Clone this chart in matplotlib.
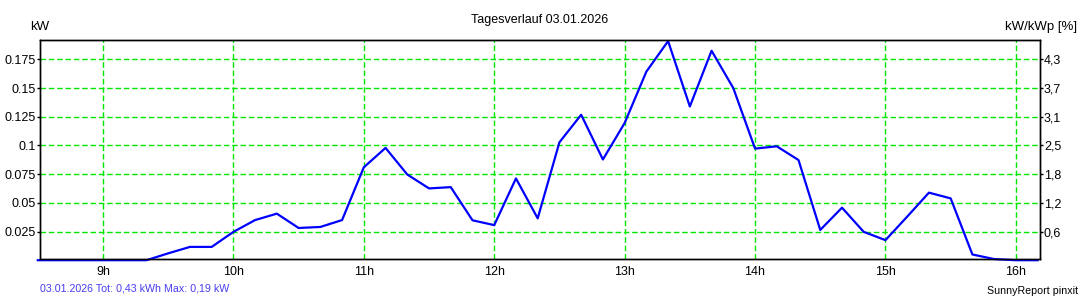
import matplotlib
matplotlib.use("Agg")
import matplotlib.pyplot as plt
import numpy as np

plt.rcParams['font.family'] = ['Liberation Sans', 'DejaVu Sans']

# 10-minute samples from 08:30 to 16:10
times = ["8:30", "8:40", "8:50", "9:00", "9:10", "9:20", "9:30", "9:40", "9:50",
         "10:00", "10:10", "10:20", "10:30", "10:40", "10:50",
         "11:00", "11:10", "11:20", "11:30", "11:40", "11:50",
         "12:00", "12:10", "12:20", "12:30", "12:40", "12:50",
         "13:00", "13:10", "13:20", "13:30", "13:40", "13:50",
         "14:00", "14:10", "14:20", "14:30", "14:40", "14:50",
         "15:00", "15:10", "15:20", "15:30", "15:40", "15:50",
         "16:00", "16:10"]
power_kw = [0, 0, 0, 0, 0, 0, 0.006, 0.0116, 0.0116,
            0.0247, 0.035, 0.0406, 0.0281, 0.029, 0.035,
            0.081, 0.0979, 0.0747, 0.0626, 0.0637, 0.0348,
            0.0306, 0.0713, 0.0365, 0.1028, 0.1268, 0.0878,
            0.1196, 0.1644, 0.191, 0.134, 0.1826, 0.150,
            0.0973, 0.0993, 0.0873, 0.0264, 0.0458, 0.0247,
            0.0175, 0.038, 0.0589, 0.0539, 0.005, 0.001,
            0, 0]

y_ticks = [0.025, 0.05, 0.075, 0.1, 0.125, 0.15, 0.175]
y_labels = ["0.025", "0.05", "0.075", "0.1", "0.125", "0.15", "0.175"]
y2_labels = ["0,6", "1,2", "1,8", "2,5", "3,1", "3,7", "4,3"]
x_hours = [9, 10, 11, 12, 13, 14, 15, 16]
x_labels = ["9h", "10h", "11h", "12h", "13h", "14h", "15h", "16h"]

title = "Tagesverlauf 03.01.2026"
footer_left = "03.01.2026 Tot: 0,43 kWh Max: 0,19 kW"
footer_right = "SunnyReport pinxit"

t = np.array([int(s.split(":")[0]) + int(s.split(":")[1]) / 60 for s in times])

W, H = 1080, 300
fig = plt.figure(figsize=(W / 100, H / 100), dpi=100)
left, right, top, bottom = 40, 1040, 40.3, 259.3
ax = fig.add_axes([left / W, 1 - bottom / H, (right - left) / W, (bottom - top) / H])

ax.set_xlim(8.517, 16.185)
ax.set_ylim(0.0008, 0.1917)

ax.plot(t, power_kw, color="#0000ff", lw=1.6, zorder=5, clip_on=False)

grid_kw = dict(color="#00e800", lw=1.0, linestyle=(0, (4, 2)), zorder=1)
for h in x_hours:
    ax.axvline(h, **grid_kw)
for yv in y_ticks:
    ax.axhline(yv, **grid_kw)

ax.set_xticks(x_hours)
ax.set_xticklabels(x_labels)
ax.set_yticks(y_ticks)
ax.set_yticklabels(y_labels)
ax.tick_params(axis="x", length=0, pad=5.0, labelsize=9)
ax.tick_params(axis="y", length=2, width=1, pad=1.2, labelsize=9)

ax2 = ax.twinx()
ax2.set_ylim(ax.get_ylim())
ax2.set_yticks(y_ticks)
ax2.set_yticklabels(y2_labels)
ax2.tick_params(axis="y", length=2, width=1, pad=0.8, labelsize=9)

for a in (ax, ax2):
    for sp in a.spines.values():
        sp.set_color("black")
        sp.set_linewidth(1.0)

fig.text(540 / W, 1 - 20 / H, title, ha="center", va="center", fontsize=9)
fig.text(30.5 / W, 1 - 27 / H, "kW", ha="left", va="center", fontsize=9.5)
fig.text(1077 / W, 1 - 27 / H, "kW/kWp [%]", ha="right", va="center", fontsize=9.5)
fig.text(40.5 / W, 1 - 288.5 / H, footer_left, ha="left", va="center", fontsize=7.7, color="#4a3cf0")
fig.text(1078 / W, 1 - 290.5 / H, footer_right, ha="right", va="center", fontsize=7.7)

fig.savefig("out.png", dpi=100)
